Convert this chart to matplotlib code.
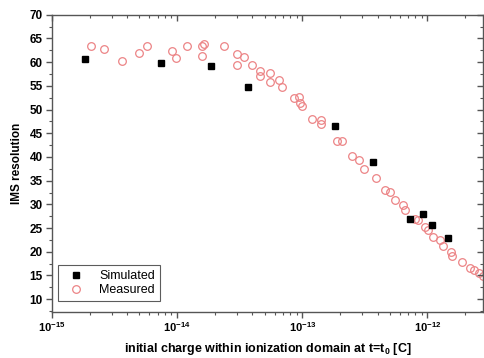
import matplotlib
matplotlib.use("Agg")
import matplotlib.pyplot as plt
from matplotlib.ticker import MultipleLocator, FixedLocator, NullFormatter

plt.rcParams['font.family'] = ['Liberation Sans', 'DejaVu Sans']
plt.rcParams['mathtext.fontset'] = 'custom'
plt.rcParams['mathtext.rm'] = 'Liberation Sans:bold'
plt.rcParams['mathtext.bf'] = 'Liberation Sans:bold'
plt.rcParams['mathtext.it'] = 'Liberation Sans:bold'
plt.rcParams['mathtext.sf'] = 'Liberation Sans:bold'

# Simulated data
sim_x = [1.85e-15, 7.4e-15, 1.85e-14, 3.66e-14, 1.84e-13, 3.66e-13,
         7.3e-13, 9.15e-13, 1.09e-12, 1.47e-12]
sim_y = [60.6, 59.9, 59.1, 54.7, 46.5, 38.9, 27.0, 28.0, 25.7, 22.8]

# Measured data
meas_x = [2.05e-15, 2.58e-15, 3.60e-15, 4.93e-15, 5.70e-15, 9.02e-15, 9.73e-15,
          1.19e-14, 1.57e-14, 1.58e-14, 1.65e-14, 2.38e-14, 3.01e-14, 3.0e-14,
          3.40e-14, 3.98e-14, 4.57e-14, 4.63e-14, 5.56e-14, 5.56e-14, 6.52e-14,
          6.87e-14, 8.65e-14, 9.40e-14, 9.62e-14, 1.00e-13, 1.19e-13, 1.42e-13,
          1.41e-13, 1.91e-13, 2.06e-13, 2.49e-13, 2.86e-13, 3.11e-13, 3.85e-13,
          4.59e-13, 4.99e-13, 5.53e-13, 6.37e-13, 6.56e-13, 7.89e-13, 8.38e-13,
          9.48e-13, 1.01e-12, 1.11e-12, 1.25e-12, 1.33e-12, 1.53e-12, 1.57e-12,
          1.90e-12, 2.18e-12, 2.35e-12, 2.59e-12, 2.77e-12]
meas_y = [63.3, 62.8, 60.2, 61.9, 63.4, 62.4, 60.8,
          63.5, 61.3, 63.4, 63.9, 63.5, 61.8, 59.3,
          61.1, 59.3, 58.2, 57.1, 57.6, 55.9, 56.2,
          54.8, 52.5, 52.6, 51.3, 50.7, 48.1, 47.8,
          46.9, 43.3, 43.4, 40.2, 39.4, 37.4, 35.6,
          33.1, 32.7, 31.0, 29.9, 28.8, 26.9, 26.7,
          25.2, 24.6, 23.2, 22.4, 21.2, 20.0, 19.1,
          17.8, 16.6, 16.2, 15.5, 14.8]

x_ticks = [1e-15, 1e-14, 1e-13, 1e-12]
x_tick_labels = ['$10^{-15}$', '$10^{-14}$', '$10^{-13}$', '$10^{-12}$']
y_ticks = [10, 15, 20, 25, 30, 35, 40, 45, 50, 55, 60, 65, 70]

XLIM = (1e-15, 2.78e-12)
YLIM = (7.3, 70)
minor_x = [m * d for d in (1e-15, 1e-14, 1e-13, 1e-12) for m in range(2, 10)
           if m * d <= XLIM[1]]

fig = plt.figure(figsize=(4.85, 3.58), dpi=100)
ax = fig.add_axes([0.1072, 0.1285, 0.8887, 0.8305])

ax.plot(meas_x, meas_y, linestyle='none', marker='o', markersize=5.5,
        markerfacecolor='none', markeredgecolor='#ec8486', markeredgewidth=0.9,
        label='Measured', zorder=2)
ax.plot(sim_x, sim_y, linestyle='none', marker='s', markersize=4.3,
        color='black', label='Simulated', zorder=3)

ax.set_xscale('log')
ax.set_xlim(*XLIM)
ax.set_ylim(*YLIM)
ax.set_yticks(y_ticks)
ax.yaxis.set_minor_locator(MultipleLocator(2.5))
ax.set_xticks(x_ticks)
ax.set_xticklabels(x_tick_labels)
ax.xaxis.set_minor_locator(FixedLocator(minor_x))
ax.xaxis.set_minor_formatter(NullFormatter())

for sp in ax.spines.values():
    sp.set_color('#555555')
    sp.set_linewidth(1.0)

ax.tick_params(which='major', direction='out', length=4, width=1.0, color='#555555',
               labelsize=8.5, pad=2.5)
ax.tick_params(which='minor', direction='out', length=2, width=0.8, color='#555555')
ax.tick_params(axis='x', which='major', labelsize=8, pad=2)
for lab in ax.get_yticklabels():
    lab.set_fontweight('bold')

# top and right ticks pointing inward
axt = ax.twiny()
axt.set_xscale('log')
axt.set_xlim(*XLIM)
axt.xaxis.set_major_locator(FixedLocator(x_ticks))
axt.xaxis.set_minor_locator(FixedLocator(minor_x))
axt.xaxis.set_major_formatter(NullFormatter())
axt.xaxis.set_minor_formatter(NullFormatter())
axt.tick_params(which='both', labeltop=False, labelbottom=False)
axt.tick_params(which='major', direction='in', length=4, width=1.0, color='#555555')
axt.tick_params(which='minor', direction='in', length=2, width=0.8, color='#555555')
axr = ax.twinx()
axr.set_ylim(*YLIM)
axr.yaxis.set_major_locator(FixedLocator(y_ticks))
axr.yaxis.set_minor_locator(MultipleLocator(2.5))
axr.yaxis.set_major_formatter(NullFormatter())
axr.tick_params(which='both', labelright=False, labelleft=False)
axr.tick_params(which='major', direction='in', length=4, width=1.0, color='#555555')
axr.tick_params(which='minor', direction='in', length=2, width=0.8, color='#555555')
for a in (axt, axr):
    for sp in a.spines.values():
        sp.set_visible(False)

ax.set_ylabel('IMS resolution', fontsize=8.5, fontweight='bold', labelpad=5)
ax.set_xlabel('initial charge within ionization domain at t=t$_0$ [C]',
              fontsize=9, fontweight='bold', labelpad=5)

handles, labels = ax.get_legend_handles_labels()
leg = ax.legend(handles[::-1], labels[::-1], loc='lower left',
                bbox_to_anchor=(0.0, 0.015), fontsize=9, frameon=True,
                fancybox=False, handletextpad=0.9, borderpad=0.4,
                labelspacing=0.15, handlelength=2.0)
leg.get_frame().set_edgecolor('#333333')
leg.get_frame().set_linewidth(0.8)

fig.savefig('out.png', dpi=100)
